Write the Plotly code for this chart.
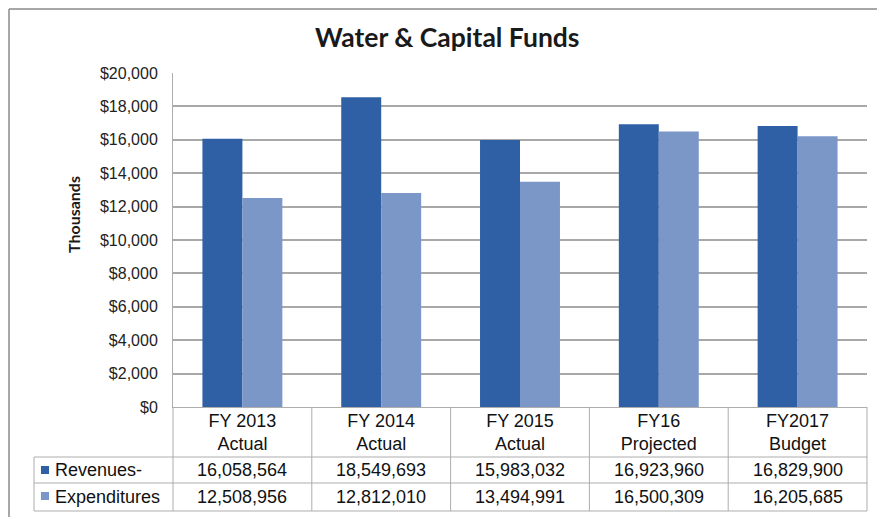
import plotly.graph_objects as go

categories = ["FY 2013<br>Actual", "FY 2014<br>Actual", "FY 2015<br>Actual", "FY16<br>Projected", "FY2017<br>Budget"]
revenues = [16058564, 18549693, 15983032, 16923960, 16829900]
expenditures = [12508956, 12812010, 13494991, 16500309, 16205685]
series_names = ["Revenues-", "Expenditures"]
y_ticks = [0, 2000, 4000, 6000, 8000, 10000, 12000, 14000, 16000, 18000, 20000]

REV_COLOR = "#2F60A6"
EXP_COLOR = "#7B97C8"
LINE = "#ADADAD"
FONT = "Liberation Sans, Arial"

# page body has an 8px margin: figure pixel = screen pixel - OFF
OFF = 8
FW, FH = 885 - OFF, 517 - OFF
# plot area in screen pixels
L, R, T, B = 173, 867, 73, 407
W, H = R - L, B - T
def px(x):
    return (x - L) / W
def py(y):
    return (B - y) / H

fig = go.Figure()
fig.add_trace(go.Bar(x=categories, y=[v / 1000 for v in revenues], name=series_names[0],
                     marker=dict(color=REV_COLOR, line=dict(width=0))))
fig.add_trace(go.Bar(x=categories, y=[v / 1000 for v in expenditures], name=series_names[1],
                     marker=dict(color=EXP_COLOR, line=dict(width=0))))

shapes = []
# outer border (left/top as close to the frame as the page allows)
BORDER = dict(color="#8A8A8A", width=1.5)
shapes.append(dict(type="line", xref="paper", yref="paper", x0=px(9), x1=px(9), y0=py(9), y1=py(517), line=BORDER))
shapes.append(dict(type="line", xref="paper", yref="paper", x0=px(9), x1=px(880), y0=py(9), y1=py(9), line=BORDER))
shapes.append(dict(type="line", xref="paper", yref="paper", x0=px(880), x1=px(880), y0=py(9), y1=py(517), line=BORDER))
# table horizontal lines
for yy in [457, 483, 511]:
    shapes.append(dict(type="line", xref="paper", yref="paper", x0=px(34), x1=px(867), y0=py(yy), y1=py(yy),
                       line=dict(color=LINE, width=1)))
# table vertical lines
for k in range(len(categories) - 1):
    shapes.append(dict(type="line", xref="x", yref="paper", x0=k + 0.5, x1=k + 0.5, y0=0, y1=py(511),
                       line=dict(color=LINE, width=1)))
shapes.append(dict(type="line", xref="paper", yref="paper", x0=1, x1=1, y0=0, y1=py(511),
                   line=dict(color=LINE, width=1)))
shapes.append(dict(type="line", xref="paper", yref="paper", x0=0, x1=0, y0=0, y1=py(511),
                   line=dict(color=LINE, width=1)))
shapes.append(dict(type="line", xref="paper", yref="paper", x0=px(34), x1=px(34), y0=py(457), y1=py(511),
                   line=dict(color=LINE, width=1)))
# legend keys
for yy0, col in [(466, REV_COLOR), (492, EXP_COLOR)]:
    shapes.append(dict(type="rect", xref="paper", yref="paper", x0=px(41), x1=px(49), y0=py(yy0), y1=py(yy0 + 8),
                       line=dict(width=0), fillcolor=col))

annotations = []
annotations.append(dict(text="Water & Capital Funds", xref="paper", yref="paper", x=px(447), y=py(37),
                        xanchor="center", yanchor="middle", showarrow=False,
                        font=dict(family="Lato", size=26.5, color="#1a1a1a", weight="bold")))
annotations.append(dict(text="Thousands", xref="paper", yref="paper", x=px(73), y=py(215), textangle=-90,
                        xanchor="center", yanchor="middle", showarrow=False,
                        font=dict(family="Lato", size=16, color="#1a1a1a", weight="bold")))
row_y = [470, 497]
for name, vals, yy in [(series_names[0], revenues, row_y[0]), (series_names[1], expenditures, row_y[1])]:
    annotations.append(dict(text=name, xref="paper", yref="paper", x=px(53), y=py(yy), xanchor="left",
                            yanchor="middle", showarrow=False,
                            font=dict(family=FONT, size=18, color="#111")))
    for c, v in zip(categories, vals):
        annotations.append(dict(text=f"{v:,}", xref="x", yref="paper", x=c, y=py(yy), xanchor="center",
                                yanchor="middle", showarrow=False,
                                font=dict(family=FONT, size=18, color="#111")))

fig.update_layout(
    width=FW, height=FH,
    margin=dict(l=L - OFF, r=FW - (R - OFF), t=T - OFF, b=FH - (B - OFF)),
    paper_bgcolor="white", plot_bgcolor="white",
    showlegend=False,
    barmode="group", bargap=0.424, bargroupgap=0,
    shapes=shapes, annotations=annotations,
    xaxis=dict(type="category", showgrid=False, showline=True, linecolor=LINE, linewidth=1,
               ticks="", tickfont=dict(family=FONT, size=18, color="#111"),
               ticklabelstandoff=-3, range=[-0.5, 4.5], zeroline=False),
    yaxis=dict(range=[0, 20000], tickvals=y_ticks, ticktext=[f"${v:,}" for v in y_ticks],
               showgrid=True, gridcolor="#A8A8A8", gridwidth=1.5,
               showline=True, linecolor=LINE, linewidth=1, zeroline=False,
               tickfont=dict(family=FONT, size=16, color="#222"),
               ticklabelstandoff=11, ticks=""),
)

fig.write_html("out.html")
